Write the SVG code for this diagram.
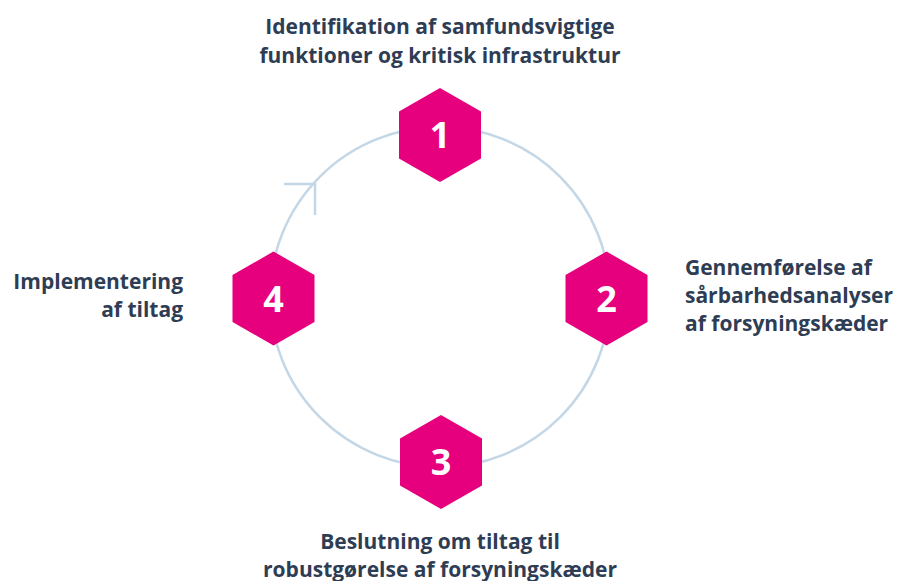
<svg xmlns="http://www.w3.org/2000/svg" width="904" height="581" viewBox="0 0 904 581">
<style>
.lbl{font-family:"Open Sans","Liberation Sans",sans-serif;font-weight:700;font-size:21px;fill:#2e3d54}
.hex{fill:#e6007e}
.num{font-family:"Open Sans","Liberation Sans",sans-serif;font-weight:700;font-size:36px;fill:#ffffff;text-anchor:middle}
.ring{fill:none;stroke:#c4d7e6;stroke-width:2.5}
</style>
<defs>
<polygon id="hexshape" points="0,-47 41,-23.5 41,23.5 0,47 -41,23.5 -41,-23.5"/>
</defs>
<rect width="904" height="581" fill="#ffffff"/>
<g id="connectors">
<circle class="ring" cx="440" cy="297" r="170"/>
<polyline class="ring" points="284,184 315,184 315,215" stroke-width="2"/>
</g>
<g id="node1">
<use href="#hexshape" class="hex" x="440" y="135"/>
<text class="num" x="440" y="148">1</text>
<text class="lbl" text-anchor="middle" x="440" y="34">Identifikation af samfundsvigtige</text>
<text class="lbl" text-anchor="middle" x="440" y="63">funktioner og kritisk infrastruktur</text>
</g>
<g id="node2">
<use href="#hexshape" class="hex" x="606.5" y="298.5"/>
<text class="num" x="606.5" y="311.5">2</text>
<text class="lbl" x="685" y="275">Gennemførelse af</text>
<text class="lbl" x="685" y="303">sårbarhedsanalyser</text>
<text class="lbl" x="685" y="331">af forsyningskæder</text>
</g>
<g id="node3">
<use href="#hexshape" class="hex" x="441" y="462"/>
<text class="num" x="441" y="475">3</text>
<text class="lbl" text-anchor="middle" x="440" y="549">Beslutning om tiltag til</text>
<text class="lbl" text-anchor="middle" x="440" y="577">robustgørelse af forsyningskæder</text>
</g>
<g id="node4">
<use href="#hexshape" class="hex" x="273.5" y="298.5"/>
<text class="num" x="273.5" y="311.5">4</text>
<text class="lbl" text-anchor="end" x="183" y="289">Implementering</text>
<text class="lbl" text-anchor="end" x="183" y="317">af tiltag</text>
</g>
</svg>
